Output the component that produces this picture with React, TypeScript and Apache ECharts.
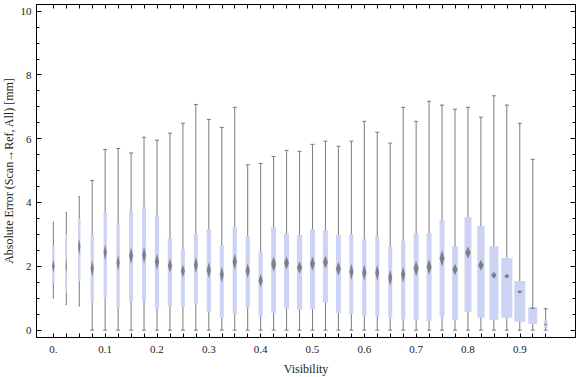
import React, { useEffect, useRef } from "react";
import * as echarts from "echarts";

// Box positions (Visibility)
const visibility = [
  0, 0.025, 0.05, 0.075, 0.1, 0.125, 0.15, 0.175, 0.2, 0.225, 0.25, 0.275, 0.3,
  0.325, 0.35, 0.375, 0.4, 0.425, 0.45, 0.475, 0.5, 0.525, 0.55, 0.575, 0.6,
  0.625, 0.65, 0.675, 0.7, 0.725, 0.75, 0.775, 0.8, 0.825, 0.85, 0.875, 0.9,
  0.925, 0.95,
];
const whiskerLow = [
  1.01, 0.8, 0.76, 0, 0, 0, 0, 0, 0, 0, 0, 0, 0, 0, 0, 0, 0, 0, 0, 0, 0, 0, 0,
  0, 0, 0, 0, 0, 0, 0, 0, 0, 0, 0, 0, 0, 0, 0, 0,
];
const q1 = [
  1.48, 1.16, 1.54, 0.86, 1.02, 0.7, 0.89, 0.89, 0.67, 0.76, 0.73,
  0.82, 0.57, 0.39, 0.51, 0.7, 0.42, 0.54, 0.67, 0.64, 0.66, 0.86, 0.54, 0.51, 0.45, 0.42,
  0.39, 0.35, 0.32, 0.29, 0.42, 0.32, 0.57, 0.39, 0.32, 0.39, 0.26, 0.2, 0.07,
];
const median = [
  2.0, 2.0, 2.61, 1.93, 2.43, 2.11, 2.33, 2.35, 2.14, 2.02, 1.85,
  2.04, 1.88, 1.74, 2.14, 1.86, 1.55, 2.07, 2.1, 1.96, 2.08, 2.13, 1.92, 1.83, 1.8, 1.8,
  1.64, 1.74, 1.93, 1.98, 2.25, 1.9, 2.43, 2.03, 1.72, 1.69, 1.2, 0.69, 0.18,
];
const q3 = [
  2.65, 3.01, 3.5, 3.0, 3.69, 3.35, 3.73, 3.86, 3.59, 2.88, 2.54,
  3.01, 3.17, 2.66, 3.23, 2.95, 2.47, 3.23, 3.04, 2.98, 3.16, 3.13, 2.98, 3.01, 2.85, 2.94,
  2.63, 2.79, 3.04, 3.04, 3.45, 2.63, 3.54, 3.26, 2.63, 2.26, 1.54, 0.72, 0.29,
];
const whiskerHigh = [
  3.38, 3.69, 4.19, 4.69, 5.66, 5.69, 5.55, 6.04, 5.95, 6.17, 6.48,
  7.07, 6.6, 6.35, 6.98, 5.18, 5.22, 5.44, 5.63, 5.6, 5.82, 5.92, 5.76, 5.92, 6.54, 6.2,
  5.86, 6.98, 6.54, 7.17, 7.05, 6.92, 6.98, 6.67, 7.34, 7.05, 6.48, 5.35, 0.67,
];
// relative sample weight (drives box width)
const sampleWeight = [
  0.25, 0.12, 0.25, 0.33, 0.33, 0.33, 0.4, 0.4, 0.43, 0.43, 0.4,
  0.4, 0.43, 0.4, 0.43, 0.43, 0.43, 0.5, 0.5, 0.53, 0.5, 0.5, 0.5, 0.4, 0.43, 0.4,
  0.4, 0.43, 0.5, 0.5, 0.5, 0.57, 0.7, 0.73, 0.9, 1.1, 1.1, 0.9, 0.37,
];

const xLabelValues = [0, 0.1, 0.2, 0.3, 0.4, 0.5, 0.6, 0.7, 0.8, 0.9];
const xLabelTexts = ["0.", "0.1", "0.2", "0.3", "0.4", "0.5", "0.6", "0.7", "0.8", "0.9"];
const yMajorValues = [0, 2, 4, 6, 8, 10];
const yMinorValues = [0.5, 1, 1.5, 2.5, 3, 3.5, 4.5, 5, 5.5, 6.5, 7, 7.5, 8.5, 9, 9.5];
const yTitle = "Absolute Error (Scan\u2192Ref, All) [mm]";
const xTitle = "Visibility";

const X_MIN = -0.0325;
const X_MAX = 1.0075;
const Y_MIN = -0.23;
const Y_MAX = 10.2;
const BOX_SCALE_PX = 10;
const FONT = "Liberation Serif";

export default function App() {
  const ref = useRef<HTMLDivElement>(null);

  useEffect(() => {
    if (!ref.current) return;
    const chart = echarts.init(ref.current, undefined, { renderer: "svg" });

    const data = visibility.map((v, i) => [
      v, whiskerLow[i], q1[i], median[i], q3[i], whiskerHigh[i], sampleWeight[i],
    ]);

    const frameLine = { show: true, onZero: false, lineStyle: { color: "#000", width: 1 } };
    const noLine = { show: false, onZero: false };
    const labelStyle = { fontFamily: FONT, fontSize: 11, color: "#222" };

    const option: any = {
      animation: false,
      textStyle: { fontFamily: FONT },
      grid: {
        left: 36.5,
        right: 0.5,
        top: 4.5,
        bottom: 39.5,
        containLabel: false,
        outerBoundsMode: "none",
      },
      graphic: [
        {
          type: "text",
          x: 9,
          y: 171,
          rotation: Math.PI / 2,
          style: {
            text: yTitle,
            fontFamily: FONT,
            fontSize: 12,
            fill: "#222",
            align: "center",
            verticalAlign: "middle",
          },
        },
      ],
      xAxis: [
        {
          type: "value",
          position: "bottom",
          min: X_MIN,
          max: X_MAX,
          axisLine: frameLine,
          splitLine: { show: false },
          axisTick: {
            show: true,
            inside: true,
            length: 4,
            customValues: visibility,
            lineStyle: { color: "#000" },
          },
          axisLabel: {
            show: true,
            customValues: xLabelValues,
            margin: 6,
            ...labelStyle,
            formatter: (v: number) => {
              const idx = xLabelValues.findIndex((x) => Math.abs(x - v) < 1e-6);
              return idx >= 0 ? xLabelTexts[idx] : "";
            },
          },
          name: xTitle,
          nameLocation: "middle",
          nameGap: 25,
          nameTextStyle: { fontFamily: FONT, fontSize: 12, color: "#222" },
        },
        {
          type: "value",
          position: "top",
          min: X_MIN,
          max: X_MAX,
          axisLine: frameLine,
          splitLine: { show: false },
          axisTick: {
            show: true,
            inside: true,
            length: 4,
            customValues: visibility,
            lineStyle: { color: "#000" },
          },
          axisLabel: { show: false },
        },
      ],
      yAxis: [
        {
          type: "value",
          position: "left",
          min: Y_MIN,
          max: Y_MAX,
          axisLine: frameLine,
          splitLine: { show: false },
          axisTick: {
            show: true,
            inside: true,
            length: 5,
            customValues: yMajorValues,
            lineStyle: { color: "#000" },
          },
          axisLabel: {
            show: true,
            customValues: yMajorValues,
            margin: 5,
            ...labelStyle,
            formatter: (v: number) => String(Math.round(v)),
          },
        },
        {
          type: "value",
          position: "left",
          min: Y_MIN,
          max: Y_MAX,
          axisLine: noLine,
          splitLine: { show: false },
          axisTick: {
            show: true,
            inside: true,
            length: 3,
            customValues: yMinorValues,
            lineStyle: { color: "#000" },
          },
          axisLabel: { show: false },
        },
        {
          type: "value",
          position: "right",
          min: Y_MIN,
          max: Y_MAX,
          axisLine: frameLine,
          splitLine: { show: false },
          axisTick: {
            show: true,
            inside: true,
            length: 5,
            customValues: yMajorValues,
            lineStyle: { color: "#000" },
          },
          axisLabel: { show: false },
        },
        {
          type: "value",
          position: "right",
          min: Y_MIN,
          max: Y_MAX,
          axisLine: noLine,
          splitLine: { show: false },
          axisTick: {
            show: true,
            inside: true,
            length: 3,
            customValues: yMinorValues,
            lineStyle: { color: "#000" },
          },
          axisLabel: { show: false },
        },
      ],
      series: [
        {
          type: "custom",
          xAxisIndex: 0,
          yAxisIndex: 0,
          encode: { x: 0, y: [1, 2, 3, 4, 5] },
          data,
          renderItem: (_params: any, api: any) => {
            const x = api.value(0);
            const lo = api.coord([x, api.value(1)]);
            const b1 = api.coord([x, api.value(2)]);
            const md = api.coord([x, api.value(3)]);
            const b3 = api.coord([x, api.value(4)]);
            const hi = api.coord([x, api.value(5)]);
            const w = api.value(6) * BOX_SCALE_PX;
            const cx = lo[0];
            const capHalf = w >= 3 ? 2 : 0.6;
            const iqrPx = b1[1] - b3[1];
            const hh = Math.min(8, Math.max(1, (0.44 * iqrPx) / w));
            const hw = Math.min(w / 2, 2.7);
            const stroke = { stroke: "#7a7a7a", lineWidth: 1 };
            return {
              type: "group",
              children: [
                { type: "line", shape: { x1: cx, y1: hi[1], x2: cx, y2: lo[1] }, style: stroke },
                { type: "line", shape: { x1: cx - capHalf, y1: hi[1], x2: cx + capHalf, y2: hi[1] }, style: stroke },
                { type: "line", shape: { x1: cx - capHalf, y1: lo[1], x2: cx + capHalf, y2: lo[1] }, style: stroke },
                {
                  type: "rect",
                  shape: { x: cx - w / 2, y: b3[1], width: w, height: iqrPx },
                  style: { fill: "#ccd3f4" },
                },
                {
                  type: "polygon",
                  shape: {
                    points: [
                      [cx, md[1] - hh],
                      [cx + hw, md[1]],
                      [cx, md[1] + hh],
                      [cx - hw, md[1]],
                    ],
                  },
                  style: { fill: "rgba(100,100,100,0.75)" },
                },
              ],
            };
          },
        },
      ],
    };

    chart.setOption(option);
    return () => chart.dispose();
  }, []);

  return (
    <div
      ref={ref}
      style={{ position: "absolute", left: 0, top: 0, width: 576, height: 377, background: "#fff" }}
    />
  );
}
